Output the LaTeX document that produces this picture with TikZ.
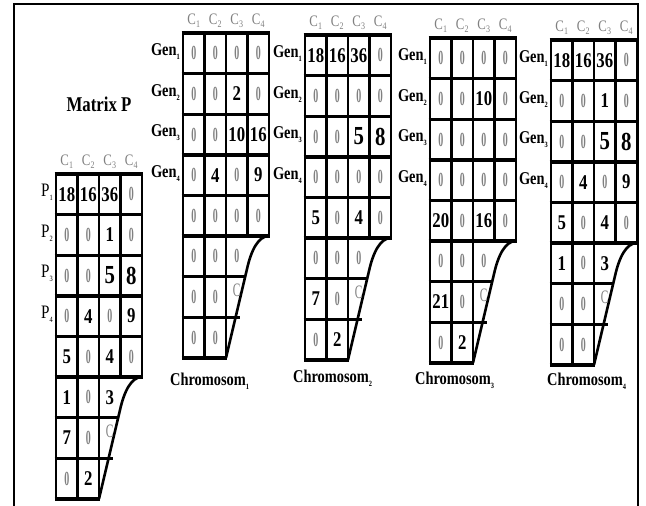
\documentclass[tikz,border=0pt]{standalone}
\usepackage{fontspec}
\setmainfont{Liberation Serif}[FakeStretch=0.8]
\usepackage{graphicx}
\definecolor{zgray}{gray}{0.5}
\definecolor{cgray}{gray}{0.5}
\newcommand\Z{{\color{zgray}\fontsize{20}{20}\selectfont\bfseries\scalebox{0.62}[1]{0}}}
\newcommand\Cz{\raisebox{0pt}[0pt][0pt]{\color{zgray}\fontsize{19}{19}\selectfont\scalebox{0.75}[1]{C}}}
\newcommand\B[1]{{\fontsize{21}{21}\selectfont\bfseries #1}}
\newcommand\BB[1]{{\fontsize{26}{26}\selectfont\bfseries #1}}
\newcommand\Sub[2]{#1\raisebox{-4pt}{\fontsize{8}{8}\selectfont #2}}
\newcommand\CSub[2]{#1\raisebox{-3pt}{\fontsize{10}{10}\selectfont #2}}
\newcommand\Plab[1]{{\fontsize{19}{19}\selectfont\Sub{P}{#1}}}
\newcommand\Glab[1]{{\fontsize{18}{18}\selectfont\bfseries\Sub{Gen}{#1}}}
\newcommand\Clab[1]{{\color{cgray}\fontsize{16}{16}\selectfont\CSub{C}{#1}}}
\newcommand\Chlab[1]{{\fontsize{18}{18}\selectfont\bfseries\Sub{Chromosom}{#1}}}
\tikzset{
  hl/.style={line width=3.4pt},
  vl/.style={line width=2.6pt},
  frameline/.style={line width=2.5pt},
  cell/.style={inner sep=0pt, anchor=center},
}
% #1 name, #2 x, #3 y, #4 row label macro, #5 cells
\newcommand\drawgrid[5]{%
\begin{scope}[shift={(#2,#3)}]
  \foreach \k in {0,...,5} {\draw[hl] (-1.3,40.6*\k) -- (87.3,40.6*\k);}
  \draw[hl] (-1.3,243.6) -- (63,243.6);
  \draw[hl] (-1.3,284.2) -- (57,284.2);
  \draw[hl] (-1.3,324.8) -- (44.3,324.8);
  \draw[vl] (0,0) -- (0,324.8);
  \draw[vl] (21.5,0) -- (21.5,324.8);
  \draw[vl] (43,0) -- (43,324.8);
  \draw[vl] (64.5,0) -- (64.5,203);
  \draw[vl] (86,0) -- (86,203);
  \draw[vl] (86,203) .. controls (75,203) and (68,218) .. (64,236) -- (43,324.8);
  \foreach \rw/\cl/\txt in {#5} {\node[cell] (#1-\rw-\cl) at ({21.5*\cl-10.75},{40.6*\rw-20.3}) {\txt};}
  \foreach \i in {1,...,4} {\node[anchor=east, inner sep=0pt] (#1-r\i) at (-3,{40.6*\i-22}) {#4{\i}};}
  \foreach \i in {1,...,4} {\node[inner sep=0pt] (#1-c\i) at ({21.5*\i-10.75},-12) {\Clab{\i}};}
\end{scope}}
\begin{document}
\begin{tikzpicture}[x=1pt,y=-1pt]
\useasboundingbox (0,0) rectangle (646,506);
\fill[white] (0,0) rectangle (646,506);
\draw[frameline] (14,510) -- (14,4) -- (638,4) -- (638,510);

\node[font=\bfseries\fontsize{21}{21}\selectfont, inner sep=0pt] (title) at (99,104) {Matrix P};

\drawgrid{P}{56}{174}{\Plab}{1/1/\B{18},1/2/\B{16},1/3/\B{36},1/4/\Z,
 2/1/\Z,2/2/\Z,2/3/\B{1},2/4/\Z,
 3/1/\Z,3/2/\Z,3/3/\BB{5},3/4/\BB{8},
 4/1/\Z,4/2/\B{4},4/3/\Z,4/4/\B{9},
 5/1/\B{5},5/2/\Z,5/3/\B{4},5/4/\Z,
 6/1/\B{1},6/2/\Z,6/3/\B{3},
 7/1/\B{7},7/2/\Z,7/3/\Cz,
 8/1/\Z,8/2/\B{2}}

\drawgrid{A}{183}{33}{\Glab}{1/1/\Z,1/2/\Z,1/3/\Z,1/4/\Z,
 2/1/\Z,2/2/\Z,2/3/\B{2},2/4/\Z,
 3/1/\Z,3/2/\Z,3/3/\B{10},3/4/\B{16},
 4/1/\Z,4/2/\B{4},4/3/\Z,4/4/\B{9},
 5/1/\Z,5/2/\Z,5/3/\Z,5/4/\Z,
 6/1/\Z,6/2/\Z,6/3/\Z,
 7/1/\Z,7/2/\Z,7/3/\Cz,
 8/1/\Z,8/2/\Z}

\drawgrid{B}{305}{35}{\Glab}{1/1/\B{18},1/2/\B{16},1/3/\B{36},1/4/\Z,
 2/1/\Z,2/2/\Z,2/3/\Z,2/4/\Z,
 3/1/\Z,3/2/\Z,3/3/\BB{5},3/4/\BB{8},
 4/1/\Z,4/2/\Z,4/3/\Z,4/4/\Z,
 5/1/\B{5},5/2/\Z,5/3/\B{4},5/4/\Z,
 6/1/\Z,6/2/\Z,6/3/\Z,
 7/1/\B{7},7/2/\Z,7/3/\Cz,
 8/1/\Z,8/2/\B{2}}

\drawgrid{C}{430}{38}{\Glab}{1/1/\Z,1/2/\Z,1/3/\Z,1/4/\Z,
 2/1/\Z,2/2/\Z,2/3/\B{10},2/4/\Z,
 3/1/\Z,3/2/\Z,3/3/\Z,3/4/\Z,
 4/1/\Z,4/2/\Z,4/3/\Z,4/4/\Z,
 5/1/\B{20},5/2/\Z,5/3/\B{16},5/4/\Z,
 6/1/\Z,6/2/\Z,6/3/\Z,
 7/1/\B{21},7/2/\Z,7/3/\Cz,
 8/1/\Z,8/2/\B{2}}

\drawgrid{D}{551}{40}{\Glab}{1/1/\B{18},1/2/\B{16},1/3/\B{36},1/4/\Z,
 2/1/\Z,2/2/\Z,2/3/\B{1},2/4/\Z,
 3/1/\Z,3/2/\Z,3/3/\BB{5},3/4/\BB{8},
 4/1/\Z,4/2/\B{4},4/3/\Z,4/4/\B{9},
 5/1/\B{5},5/2/\Z,5/3/\B{4},5/4/\Z,
 6/1/\B{1},6/2/\Z,6/3/\B{3},
 7/1/\Z,7/2/\Z,7/3/\Cz,
 8/1/\Z,8/2/\Z}

\node[anchor=west, inner sep=0pt] (ch1) at (170,381) {\Chlab{1}};
\node[anchor=west, inner sep=0pt] (ch2) at (293,378) {\Chlab{2}};
\node[anchor=west, inner sep=0pt] (ch3) at (415,380) {\Chlab{3}};
\node[anchor=west, inner sep=0pt] (ch4) at (547,381) {\Chlab{4}};
\end{tikzpicture}
\end{document}
